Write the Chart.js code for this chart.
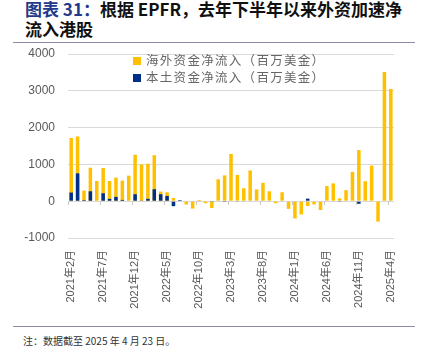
<!DOCTYPE html>
<html><head><meta charset="utf-8">
<script src="https://cdn.jsdelivr.net/npm/chart.js@4.4.1/dist/chart.umd.min.js"></script>
<style>
body{margin:0;width:430px;height:355px;background:#fff;position:relative;overflow:hidden;font-family:"Liberation Sans","Noto Sans CJK SC",sans-serif;}
#title{position:absolute;left:25px;top:-1px;font-family:"Noto Sans CJK SC",sans-serif;font-weight:bold;font-size:17px;line-height:20px;color:#111;white-space:nowrap;}
#title .num{color:#1f3a8a;}
.rule{position:absolute;left:13px;width:402px;height:0;border-top:1.5px solid #8a8aad;}
#legend{position:absolute;left:133px;top:52px;font-family:"Noto Sans CJK SC",sans-serif;font-size:12.5px;color:#666;letter-spacing:1.3px;line-height:16.5px;}
#legend .sw{display:inline-block;width:8px;height:8px;margin-right:5px;vertical-align:0px;}
#note{position:absolute;left:23px;top:333px;font-family:"Noto Sans CJK SC",sans-serif;font-size:10px;color:#333;}
#wrap{position:absolute;left:0;top:45px;width:430px;height:280px;}
</style></head>
<body>
<div id="title"><span class="num">图表 31：</span>根据 EPFR，去年下半年以来外资加速净<br>流入港股</div>
<div class="rule" style="top:42px"></div>
<div id="wrap"><canvas id="c" width="430" height="280"></canvas></div>
<div id="legend"></div>
<div class="rule" style="top:326px"></div>
<div id="note">注：数据截至 2025 年 4 月 23 日。</div>
<script>
const categories = [
 "2021年2月","2021年3月","2021年4月","2021年5月","2021年6月","2021年7月","2021年8月","2021年9月","2021年10月","2021年11月","2021年12月",
 "2022年1月","2022年2月","2022年3月","2022年4月","2022年5月","2022年6月","2022年7月","2022年8月","2022年9月","2022年10月","2022年11月","2022年12月",
 "2023年1月","2023年2月","2023年3月","2023年4月","2023年5月","2023年6月","2023年7月","2023年8月","2023年9月","2023年10月","2023年11月","2023年12月",
 "2024年1月","2024年2月","2024年3月","2024年4月","2024年5月","2024年6月","2024年7月","2024年8月","2024年9月","2024年10月","2024年11月","2024年12月",
 "2025年1月","2025年2月","2025年3月","2025年4月"
];
const tickLabels = ["2021年2月","2021年7月","2021年12月","2022年5月","2022年10月","2023年3月","2023年8月","2024年1月","2024年6月","2024年11月","2025年4月"];
const seriesNames = ["海外资金净流入（百万美金）","本土资金净流入（百万美金）"];
const foreignFlow = [
 1720,1760,290,910,550,900,550,640,560,695,1262,
 1000,1018,1250,262,243,85,10,-90,-200,35,-55,-185,
 595,700,1285,715,351,835,320,500,270,-55,243,-207,
 -470,-360,-130,-88,-240,410,485,77,300,797,1390,543,
 968,-555,3514,3050
];
const domesticFlow = [
 235,757,30,270,0,216,63,117,35,0,190,
 20,65,325,190,143,-135,30,0,0,-15,0,-20,
 0,-5,0,-10,-15,0,0,0,0,0,0,0,
 0,0,70,0,0,0,0,-20,0,0,-70,0,
 0,0,0,0
];
const yTicks = [-1000,0,1000,2000,3000,4000];
const colors = ["#FFC000","#002F87"];

document.getElementById('legend').innerHTML = seriesNames.map((n,i)=>
 '<div><span class="sw" style="background:'+colors[i]+'"></span>'+n+'</div>').join('');

const zeroTicks = {
 id:'zeroTicks',
 afterDatasetsDraw(chart){
  const x=chart.scales.x, y=chart.scales.y, ctx=chart.ctx;
  const y0=Math.round(y.getPixelForValue(0));
  const w=x.width/categories.length;
  ctx.save(); ctx.strokeStyle='#c8c8c8'; ctx.lineWidth=1; ctx.beginPath();
  for(let i=0;i<categories.length;i+=5){
   const px=Math.round(x.getPixelForValue(i)-w/2)+0.5;
   ctx.moveTo(px,y0); ctx.lineTo(px,y0+4);
  }
  ctx.stroke(); ctx.restore();
 }
};

new Chart(document.getElementById('c'),{
 type:'bar',
 data:{labels:categories,datasets:[
  {label:seriesNames[0],data:foreignFlow,backgroundColor:colors[0],order:1,barPercentage:0.55,categoryPercentage:1},
  {label:seriesNames[1],data:domesticFlow,backgroundColor:colors[1],order:0,barPercentage:0.55,categoryPercentage:1}
 ]},
 options:{
  responsive:false,animation:false,
  layout:{padding:{top:9,right:36,left:0,bottom:0}},
  plugins:{legend:{display:false},tooltip:{enabled:false}},
  scales:{
   x:{stacked:true,
      grid:{display:false,drawTicks:false},border:{display:false},
      afterFit(s){s.height=87;s.paddingLeft=0;s.paddingRight=0;},
      ticks:{autoSkip:false,maxRotation:90,minRotation:90,padding:12,color:'#595959',
        font:{family:'"Liberation Sans","Noto Sans CJK SC",sans-serif',size:11},
        callback(v,i){const l=categories[i];return tickLabels.includes(l)?l:'';}}},
   y:{stacked:false,min:-1000,max:4000,
      afterFit(s){s.width=68;s.paddingTop=0;s.paddingBottom=0;},
      afterBuildTicks(s){s.ticks=yTicks.map(v=>({value:v}));},
      grid:{color:'#d9d9d9',drawTicks:false,lineWidth:1},border:{display:false},
      ticks:{padding:13,color:'#595959',font:{family:'"Liberation Sans",sans-serif',size:12},
        callback(v){return String(v);}}}
  }
 },
 plugins:[zeroTicks]
});
</script>
</body></html>
